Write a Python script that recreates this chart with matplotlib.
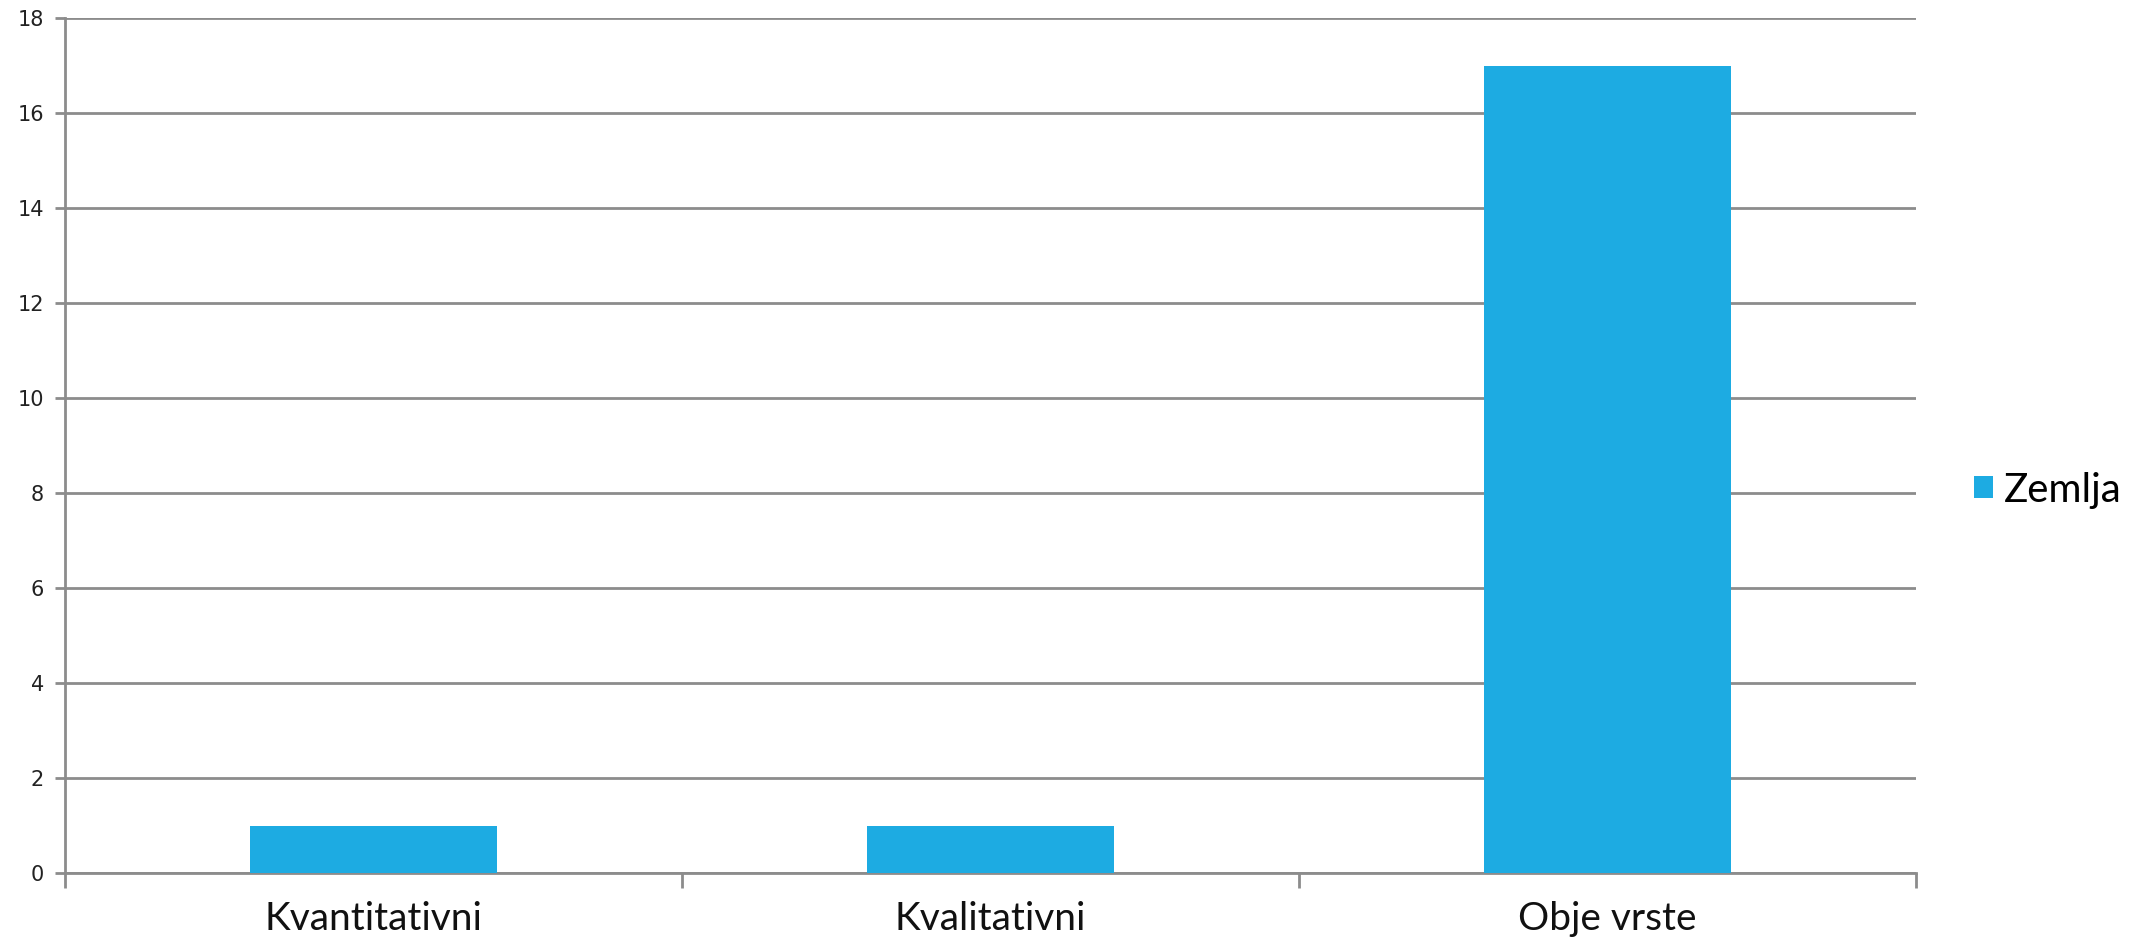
import numpy as np
import matplotlib.pyplot as plt

# podatki
kategorije = ["Kvantitativni", "Kvalitativni", "Obje vrste"]
zemlja = [1, 1, 17]
y_ticks = list(range(0, 19, 2))

barva = "#1DABE2"
siva = "#8C8C8C"

fig = plt.figure(figsize=(21.38, 9.5), dpi=100)
ax = fig.add_axes([65 / 2138, 77 / 950, (1916 - 65) / 2138, (873 - 18) / 950])

x = np.arange(len(kategorije))
ax.bar(x, zemlja, width=0.4, color=barva, label="Zemlja", zorder=3)

ax.set_xlim(-0.5, len(kategorije) - 0.5)
ax.set_ylim(0, 18)
ax.set_yticks(y_ticks)
ax.yaxis.grid(True, color=siva, linewidth=2)
ax.set_axisbelow(True)

for s in ["top", "right"]:
    ax.spines[s].set_visible(False)
for s in ["left", "bottom"]:
    ax.spines[s].set_color(siva)
    ax.spines[s].set_linewidth(2)

ax.set_xticks(x)
ax.set_xticklabels(kategorije, fontsize=28, family="Lato", color="#111111")
ax.set_xticks(np.arange(-0.5, len(kategorije)), minor=True)
ax.tick_params(axis="x", which="major", length=0, pad=20)
ax.tick_params(axis="x", which="minor", length=11, width=2, color=siva)
ax.tick_params(axis="y", length=7, width=2, color=siva, labelsize=15,
               labelcolor="#222222", pad=8)

fig.legend(loc="center left", bbox_to_anchor=(1974 / 2138, 1 - 490 / 950),
           frameon=False, borderpad=0, borderaxespad=0,
           handlelength=0.48, handleheight=0.48,
           handletextpad=0.25, prop={"family": "Lato", "size": 29})

fig.savefig("out.png", dpi=100)
